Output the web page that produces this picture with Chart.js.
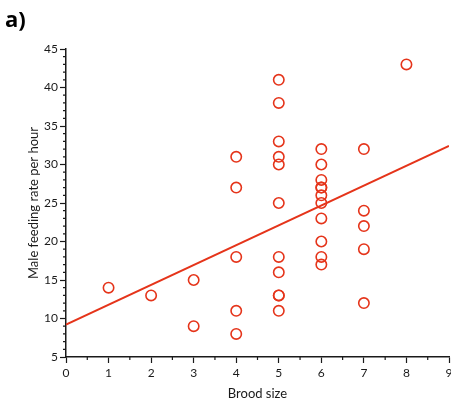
<!DOCTYPE html>
<html>
<head>
<meta charset="utf-8">
<script src="https://cdn.jsdelivr.net/npm/chart.js@4"></script>
<style>
  html, body { margin: 0; padding: 0; background: #fff; }
  #wrap { width: 451px; height: 402px; position: relative; }
</style>
</head>
<body>
<div id="wrap"><canvas id="chart" width="451" height="402"></canvas></div>
<script>
// brood size of each nest and the male's feeding rate
const broodSize = [1, 2, 3, 3, 4, 4, 4, 4, 4,
  5, 5, 5, 5, 5, 5, 5, 5, 5, 5, 5,
  6, 6, 6, 6, 6, 6, 6, 6, 6, 6, 6,
  7, 7, 7, 7, 7, 8];
const feedingRate = [14, 13, 15, 9, 31, 27, 18, 11, 8,
  41, 38, 33, 31, 30, 25, 18, 16, 13, 13, 11,
  32, 30, 28, 27, 27, 26, 25, 23, 20, 18, 17,
  32, 24, 22, 19, 12, 43];

// fitted line, read at both ends of the x axis
const fitX = [0, 9];
const fitY = [9.2, 32.4];

const red = '#e5341a';
const ink = '#1a1a1a';

const points = broodSize.map((b, i) => ({ x: b, y: feedingRate[i] }));
const fitLine = fitX.map((x, i) => ({ x: x, y: fitY[i] }));

// minor ticks: every 0.5 on x, every 1 on y
const minorTicks = {
  id: 'minorTicks',
  afterDraw(chart) {
    const ctx = chart.ctx;
    const xs = chart.scales.x;
    const ys = chart.scales.y;
    ctx.save();
    ctx.strokeStyle = ink;
    ctx.lineWidth = 1.2;
    ctx.beginPath();
    for (let v = 0.5; v < 9; v += 1) {
      const px = xs.getPixelForValue(v);
      ctx.moveTo(px, xs.top);
      ctx.lineTo(px, xs.top + 3);
    }
    for (let v = 6; v < 45; v++) {
      if (v % 5 === 0) continue;
      const py = ys.getPixelForValue(v);
      ctx.moveTo(ys.right, py);
      ctx.lineTo(ys.right - 3, py);
    }
    ctx.stroke();
    // panel letter
    ctx.fillStyle = '#000';
    ctx.font = 'bold 22px "Open Sans", sans-serif';
    ctx.textBaseline = 'alphabetic';
    ctx.fillText('a)', 5, 27);
    ctx.restore();
  }
};

new Chart(document.getElementById('chart'), {
  type: 'scatter',
  data: {
    datasets: [
      {
        label: 'Nests',
        data: points,
        pointStyle: 'circle',
        pointRadius: 5.2,
        pointBorderWidth: 1.6,
        borderColor: red,
        backgroundColor: 'rgba(0,0,0,0)',
        pointBackgroundColor: 'rgba(0,0,0,0)',
        order: 1
      },
      {
        type: 'line',
        label: 'Fit',
        data: fitLine,
        borderColor: red,
        borderWidth: 2,
        pointRadius: 0,
        fill: false,
        order: 2
      }
    ]
  },
  options: {
    responsive: false,
    animation: false,
    layout: { autoPadding: false, padding: { top: 49, right: 2, left: 22, bottom: 0 } },
    plugins: {
      legend: { display: false },
      tooltip: { enabled: false }
    },
    scales: {
      x: {
        type: 'linear',
        min: 0,
        max: 9,
        border: { color: ink, width: 1.5 },
        grid: { drawOnChartArea: false, tickLength: 6, tickColor: ink, tickWidth: 1.2 },
        ticks: {
          stepSize: 1,
          autoSkip: false,
          maxRotation: 0,
          padding: 3,
          color: ink,
          font: { family: 'Lato', size: 12 }
        },
        title: {
          display: true,
          text: 'Brood size',
          color: ink,
          font: { family: 'Lato', size: 13 },
          padding: { top: 0, bottom: 0 }
        },
        afterFit(scale) {
          scale.height = 45;
          scale.paddingLeft = 0;
          scale.paddingRight = 0;
        }
      },
      y: {
        type: 'linear',
        min: 5,
        max: 45,
        border: { color: ink, width: 1.5 },
        grid: { drawOnChartArea: false, tickLength: 6, tickColor: ink, tickWidth: 1.2 },
        ticks: {
          stepSize: 5,
          autoSkip: false,
          padding: 2,
          color: ink,
          font: { family: 'Lato', size: 12 }
        },
        title: {
          display: true,
          text: 'Male feeding rate per hour',
          color: ink,
          font: { family: 'Lato', size: 13 },
          padding: { top: 4, bottom: 0 }
        },
        afterFit(scale) {
          scale.width = 44;
          scale.paddingTop = 0;
          scale.paddingBottom = 0;
        }
      }
    }
  },
  plugins: [minorTicks]
});
</script>
</body>
</html>
